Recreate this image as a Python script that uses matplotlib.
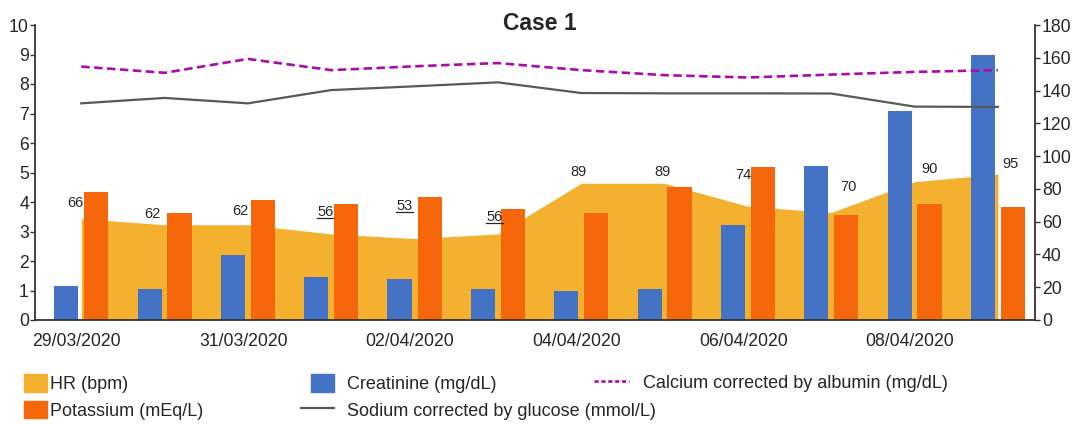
import numpy as np
import matplotlib
matplotlib.use('Agg')
import matplotlib.pyplot as plt
from matplotlib import font_manager
from matplotlib.patches import Patch, Rectangle
from matplotlib.lines import Line2D
from matplotlib.legend_handler import HandlerPatch

# ---------------- data ----------------
dates = ['29/03/2020', '30/03/2020', '31/03/2020', '01/04/2020', '02/04/2020', '03/04/2020',
         '04/04/2020', '05/04/2020', '06/04/2020', '07/04/2020', '08/04/2020', '09/04/2020']
hr = [66, 62, 62, 56, 53, 56, 89, 89, 74, 70, 90, 95]
creatinine = [1.15, 1.05, 2.20, 1.46, 1.39, 1.05, 0.98, 1.05, 3.22, 5.22, 7.08, 8.98]
potassium = [4.34, 3.63, 4.07, 3.93, 4.17, 3.76, 3.63, 4.51, 5.19, 3.56, 3.93, 3.83]
calcium = [8.59, 8.38, 8.85, 8.47, 8.60, 8.71, 8.47, 8.30, 8.22, 8.32, 8.41, 8.47]
sodium = [132.2, 135.5, 132.2, 140.3, 142.6, 145.0, 138.5, 138.3, 138.3, 138.2, 130.2, 130.0]

# label offsets (pixels) for HR value labels
label_offsets = [(-6, 16), (-12, 11), (-7.5, 14), (-6, 22), (-10, 33), (-3.5, 17),
                 (-3, 11), (-2, 11), (-4.5, 31), (17, 25), (15, 13), (12.5, 10)]

# ---------------- fonts ----------------
names = {f.name for f in font_manager.fontManager.ttflist}
narrow_ok = 'Liberation Sans Narrow' in names
narrow = 'Liberation Sans Narrow' if narrow_ok else 'Liberation Sans'
plt.rcParams['font.family'] = [narrow, 'DejaVu Sans']
k = 1.0 if not narrow_ok else 1.18
FS_TICK = 12.7 * k
FS_LEG = 13.0 * k
FS_LAB = 10.5 * k
FS_TITLE = 16.5 * k

C_HR = '#F4B12F'
C_CREA = '#4472C4'
C_K = '#F6670C'
C_CA = '#A80DA8'
C_NA = '#595959'
C_TXT = '#262626'
C_SP = '#333333'

W, H = 1072, 424
fig = plt.figure(figsize=(W / 100, H / 100), dpi=100)
rect = [35 / W, 1 - 320 / H, 1000 / W, 295 / H]
ax = fig.add_axes(rect)
ax_back = ax.twinx()
ax_r = ax.twinx()
ax_back.set_zorder(0)
ax.set_zorder(1)
ax_r.set_zorder(2)
ax.patch.set_visible(False)
ax_r.patch.set_visible(False)
ax_back.patch.set_facecolor('white')

shift = 0.055
x = np.arange(len(dates)) + shift
bw = 0.29
off = 0.18

# HR area (bottom layer)
ax_back.fill_between(x, hr, 0, color=C_HR, lw=0)
ax_back.set_ylim(0, 192)
ax_back.set_yticks([])
for s in ax_back.spines.values():
    s.set_visible(False)

# bars + calcium on left axis
ax.bar(x - off, creatinine, width=bw, color=C_CREA, lw=0)
ax.bar(x + off, potassium, width=bw, color=C_K, lw=0)
ax.plot(x, calcium, color=C_CA, lw=1.9, dashes=(3.2, 1.7))
ax.set_ylim(0, 10)
ax.set_yticks(range(0, 11))
ax.set_xlim(-0.5, len(dates) - 0.5)
ax.set_xticks(np.arange(0, len(dates), 2))
ax.set_xticklabels(dates[::2])
ax.tick_params(axis='x', length=0, pad=9.5, labelsize=FS_TICK, labelcolor=C_TXT)
ax.tick_params(axis='y', length=3.4, width=1.0, pad=1.0, labelsize=FS_TICK, labelcolor=C_TXT, color=C_SP)
for s in ['top', 'right']:
    ax.spines[s].set_visible(False)
for s in ['left', 'bottom']:
    ax.spines[s].set_color(C_SP)
    ax.spines[s].set_linewidth(1.3)

# sodium on right axis (top layer)
ax_r.plot(x, sodium, color=C_NA, lw=1.6)
ax_r.set_ylim(0, 180)
ax_r.set_yticks(range(0, 181, 20))
ax_r.tick_params(axis='y', length=3.4, width=1.0, pad=1.5, labelsize=FS_TICK, labelcolor=C_TXT, color=C_SP)
for s in ['top', 'left', 'bottom']:
    ax_r.spines[s].set_visible(False)
ax_r.spines['right'].set_color(C_SP)
ax_r.spines['right'].set_linewidth(1.3)

# HR labels
hr_texts = []
for i, v in enumerate(hr):
    t = ax_r.annotate(str(v), xy=(x[i], v), xycoords=ax_back.transData,
                      xytext=label_offsets[i], textcoords='offset pixels',
                      ha='center', va='center', fontsize=FS_LAB, color=C_TXT)
    hr_texts.append((v, t))

# title
fig.text(540 / W, 1 - 24 / H, 'Case 1', ha='center', va='center',
         fontsize=FS_TITLE, fontweight='bold', color=C_TXT)

# legends
em = FS_LEG * 100 / 72.0  # legend font size in pixels


def right_square(legend, orig_handle, xdescent, ydescent, width, height, fontsize):
    w = (23 / em) * fontsize
    return Rectangle((-xdescent + width - w, -ydescent), w, height)


h_hr = Patch(color=C_HR, label='HR (bpm)')
h_k = Patch(color=C_K, label='Potassium (mEq/L)')
h_crea = Patch(color=C_CREA, label='Creatinine (mg/dL)')
h_na = Line2D([], [], color=C_NA, lw=1.6, label='Sodium corrected by glucose (mmol/L)')
h_ca = Line2D([], [], color=C_CA, lw=1.9, dashes=(1.6, 1.0), label='Calcium corrected by albumin (mg/dL)')

common = dict(frameon=False, fontsize=FS_LEG, borderpad=0, borderaxespad=0,
              loc='center left', labelspacing=8.0 / em, handleheight=20 / em, labelcolor=C_TXT)
fig.legend(handles=[h_hr, h_k], bbox_to_anchor=(24 / W, 1 - 397 / H),
           handlelength=23 / em, handletextpad=3 / em, **common)
fig.legend(handles=[h_crea, h_na], bbox_to_anchor=(301 / W, 1 - 397 / H),
           handlelength=33 / em, handletextpad=13 / em,
           handler_map={Patch: HandlerPatch(patch_func=right_square)}, **common)
fig.legend(handles=[h_ca], bbox_to_anchor=(594 / W, 1 - 383 / H),
           handlelength=35 / em, handletextpad=14 / em, **common)

# underline HR values below 60 (bradycardia)
fig.canvas.draw()
renderer = fig.canvas.get_renderer()
for v, t in hr_texts:
    if v < 60:
        bb = t.get_window_extent(renderer)
        yl = bb.y0 + 0.5
        fig.add_artist(Line2D([bb.x0, bb.x1], [yl, yl], transform=None,
                              color=C_TXT, lw=0.9))

fig.savefig('out.png', dpi=100)
